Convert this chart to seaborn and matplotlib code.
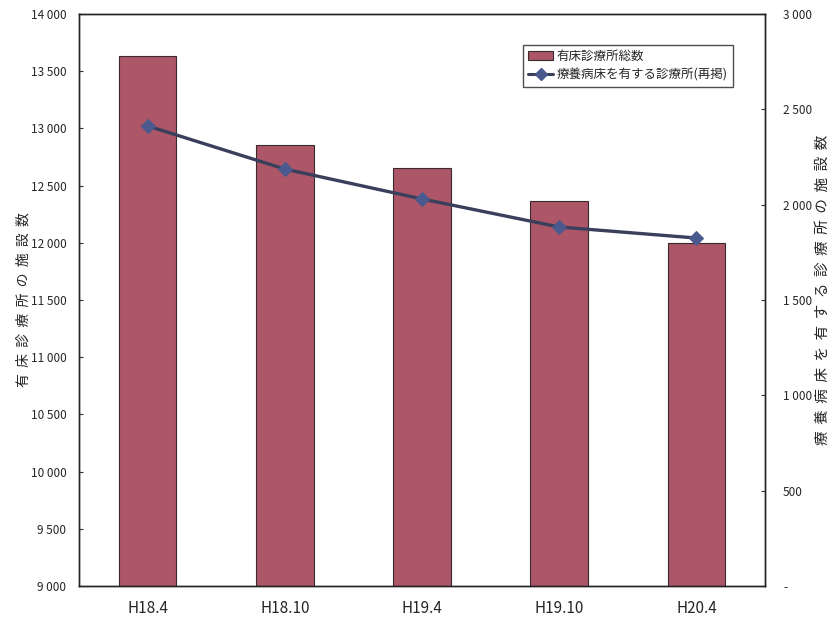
import matplotlib
matplotlib.use("Agg")
import matplotlib.pyplot as plt
import matplotlib.ticker as mticker
from matplotlib.patches import Patch
from matplotlib.lines import Line2D
import seaborn as sns
import pandas as pd

# Data
periods = ["H18.4", "H18.10", "H19.4", "H19.10", "H20.4"]
clinics_with_beds = [13633, 12855, 12654, 12365, 11998]
clinics_with_ltc_beds = [2413, 2187, 2030, 1883, 1825]

bar_label = "有床診療所総数"
line_label = "療養病床を有する診療所(再掲)"
left_ylabel = "  ".join("有床診療所の施設数")
right_ylabel = "  ".join("療養病床を有する診療所の施設数")

sns.set_theme(style="white")
plt.rcParams["font.family"] = ["Liberation Sans Narrow", "Noto Sans CJK JP", "DejaVu Sans"]

bar_color = "#ac5668"
line_color = "#3a3f5c"
marker_color = "#4a5a8e"

df = pd.DataFrame({"period": periods, "beds": clinics_with_beds, "ltc": clinics_with_ltc_beds})

fig = plt.figure(figsize=(8.34, 6.23), dpi=100)
ax = fig.add_axes([0.0947, 0.0594, 0.8226, 0.9181])

sns.barplot(data=df, x="period", y="beds", color=bar_color, width=0.42,
            edgecolor="#3a2a2e", linewidth=0.8, saturation=1, ax=ax)
ax.set_ylim(9000, 14000)
ax.set_xlim(-0.5, len(periods) - 0.5)
ax.yaxis.set_major_locator(mticker.MultipleLocator(500))
fmt = lambda v, p: f"{int(v):,}".replace(",", " ")
ax.yaxis.set_major_formatter(mticker.FuncFormatter(fmt))
ax.set_xlabel("")
ax.set_ylabel(left_ylabel, family=["Noto Sans CJK JP"], fontsize=10)
ax.yaxis.set_label_coords(-0.071, 0.5)

# x ticks sit between categories; labels centred under bars
ax.set_xticks([i + 0.5 for i in range(len(periods) - 1)], minor=False)
ax.set_xticklabels([])
ax.set_xticks(range(len(periods)), minor=True)
ax.set_xticklabels(periods, minor=True, fontsize=11)
ax.tick_params(axis="x", which="minor", length=0, pad=10)
ax.tick_params(axis="x", which="major", direction="in", length=4, width=0.8, color="#333333")
ax.tick_params(axis="y", direction="in", length=3, width=0.8, color="#333333", labelsize=8.5, pad=9)

for s in ax.spines.values():
    s.set_color("#222222")
    s.set_linewidth(1.0)

ax2 = ax.twinx()
sns.lineplot(data=df, x="period", y="ltc", sort=False, color=line_color, linewidth=2.4,
             marker="D", markersize=7, markerfacecolor=marker_color,
             markeredgecolor=marker_color, ax=ax2)
ax2.set_ylim(0, 3000)
ax2.yaxis.set_major_locator(mticker.MultipleLocator(500))
ax2.yaxis.set_major_formatter(mticker.FuncFormatter(lambda v, p: "-" if v == 0 else fmt(v, p)))
ax2.set_ylabel(right_ylabel, family=["Noto Sans CJK JP"], fontsize=10.5, rotation=90)
ax2.yaxis.set_label_coords(1.0743, 0.517)
ax2.tick_params(axis="y", direction="in", length=3, width=0.8, color="#333333", labelsize=8.5, pad=13)
ax2.set_xlabel("")
for s in ax2.spines.values():
    s.set_color("#222222")
    s.set_linewidth(1.0)

handles = [
    Patch(facecolor=bar_color, edgecolor="#3a2a2e", linewidth=0.8),
    Line2D([0], [0], color=line_color, linewidth=2.2, marker="D", markersize=6,
           markerfacecolor=marker_color, markeredgecolor=marker_color),
]
leg = ax2.legend(handles, [bar_label, line_label], loc="upper right",
                 bbox_to_anchor=(0.953, 0.946), borderaxespad=0, frameon=True, fancybox=False,
                 prop={"family": ["Noto Sans CJK JP"], "size": 9},
                 handlelength=2.0, borderpad=0.4, labelspacing=0.45, handletextpad=0.3)
leg.get_frame().set_edgecolor("#222222")
leg.get_frame().set_linewidth(1.0)

fig.savefig("out.png", dpi=100)
